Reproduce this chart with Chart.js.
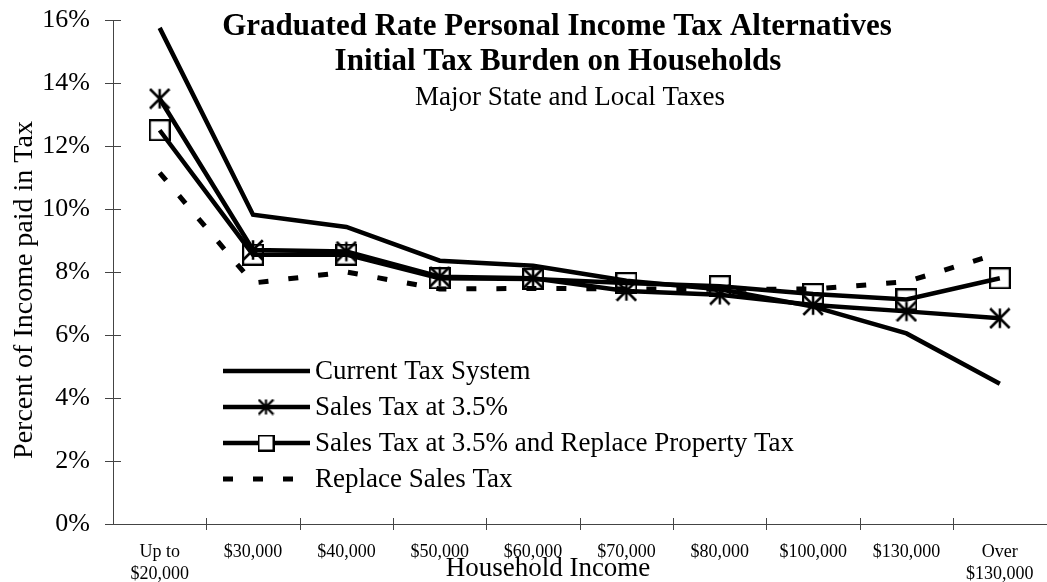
<!DOCTYPE html>
<html>
<head>
<meta charset="utf-8">
<script src="https://cdn.jsdelivr.net/npm/chart.js@4.4.0/dist/chart.umd.min.js"></script>
<style>
  html, body { margin: 0; padding: 0; background: #fff; overflow: hidden; width: 1047px; height: 582px; }
  canvas { display: block; }
</style>
</head>
<body>
<canvas id="chart" width="1062" height="582"></canvas>
<script>
// Household income brackets (x axis)
const incomeGroups = [
  ['Up to', '$20,000'], '$30,000', '$40,000', '$50,000', '$60,000',
  '$70,000', '$80,000', '$100,000', '$130,000', ['Over', '$130,000']
];

// Percent of income paid in tax, by alternative
const currentSystem = [15.75, 9.82, 9.43, 8.36, 8.2, 7.72, 7.45, 6.9, 6.05, 4.45];
const salesTax35 = [13.5, 8.7, 8.65, 7.85, 7.8, 7.4, 7.28, 6.95, 6.75, 6.53];
const salesTaxReplaceProperty = [12.5, 8.55, 8.55, 7.8, 7.78, 7.65, 7.55, 7.3, 7.13, 7.8];
const replaceSalesTax = [11.15, 7.65, 8.0, 7.46, 7.48, 7.46, 7.45, 7.46, 7.69, 8.6];

const yMin = 0, yMax = 16, yStep = 2;

const seriesNames = [
  'Current Tax System',
  'Sales Tax at 3.5%',
  'Sales Tax at 3.5% and Replace Property Tax',
  'Replace Sales Tax'
];

const SERIF = "'Liberation Serif', 'Times New Roman', serif";

// marker images
function makeAsterisk(size, lw) {
  const c = document.createElement('canvas');
  c.width = c.height = size;
  const g = c.getContext('2d');
  const m = size / 2, r = size / 2 - lw / 2;
  g.strokeStyle = '#000';
  g.lineWidth = lw;
  g.beginPath();
  g.moveTo(m, m - r); g.lineTo(m, m + r);
  g.moveTo(m - r, m - r); g.lineTo(m + r, m + r);
  g.moveTo(m + r, m - r); g.lineTo(m - r, m + r);
  g.stroke();
  return c;
}

function makeSquare(size, lw) {
  const c = document.createElement('canvas');
  c.width = c.height = size;
  const g = c.getContext('2d');
  g.strokeStyle = '#000';
  g.lineWidth = lw;
  g.strokeRect(lw / 2, lw / 2, size - lw, size - lw);
  return c;
}

const starMark = makeAsterisk(22, 2.5);
const boxMark = makeSquare(22, 2.2);
const starMarkSmall = makeAsterisk(17, 2.2);
const boxMarkSmall = makeSquare(17, 2);

// keep the plot box fixed: no extra room for overhanging tick labels
function noOverhang(scale) {
  scale.paddingLeft = 0;
  scale.paddingRight = 0;
  scale.paddingTop = 0;
  scale.paddingBottom = 0;
}

// crossing tick marks, titles and the in-plot legend
const decorations = {
  id: 'decorations',
  afterDraw(chart) {
    const ctx = chart.ctx;
    const x = chart.scales.x, y = chart.scales.y;
    const area = chart.chartArea;
    ctx.save();
    ctx.strokeStyle = '#444';
    ctx.lineWidth = 1;
    ctx.beginPath();
    y.ticks.forEach(t => {
      const py = Math.round(y.getPixelForValue(t.value)) + 0.5;
      ctx.moveTo(area.left - 8, py);
      ctx.lineTo(area.left + 8, py);
    });
    for (let i = 1; i < incomeGroups.length; i++) {
      const px = Math.round((x.getPixelForValue(i - 1) + x.getPixelForValue(i)) / 2) + 0.5;
      ctx.moveTo(px, area.bottom - 6);
      ctx.lineTo(px, area.bottom + 6);
    }
    ctx.stroke();

    ctx.fillStyle = '#000';
    ctx.textAlign = 'center';
    ctx.textBaseline = 'alphabetic';
    ctx.font = 'bold 31px ' + SERIF;
    ctx.fillText('Graduated Rate Personal Income Tax Alternatives', 557, 35);
    ctx.fillText('Initial Tax Burden on Households', 558, 70);
    ctx.font = '27px ' + SERIF;
    ctx.fillText('Major State and Local Taxes', 570, 105);

    ctx.font = '27px ' + SERIF;
    ctx.textBaseline = 'middle';
    ctx.fillText('Household Income', 548, 569);

    ctx.save();
    ctx.translate(32, 290);
    ctx.rotate(-Math.PI / 2);
    ctx.textBaseline = 'alphabetic';
    ctx.font = '28px ' + SERIF;
    ctx.fillText('Percent of Income paid in Tax', 0, 0);
    ctx.restore();

    // legend
    const rows = [371, 407, 443, 479];
    const marks = [null, starMarkSmall, boxMarkSmall, null];
    ctx.textAlign = 'left';
    ctx.textBaseline = 'middle';
    ctx.font = '27px ' + SERIF;
    chart.data.datasets.forEach((ds, i) => {
      const ry = rows[i];
      ctx.strokeStyle = '#000';
      ctx.lineWidth = ds.borderWidth;
      ctx.setLineDash(ds.borderDash || []);
      ctx.beginPath();
      ctx.moveTo(223, ry);
      ctx.lineTo(ds.borderDash ? 296 : 310, ry);
      ctx.stroke();
      ctx.setLineDash([]);
      if (marks[i]) {
        ctx.fillStyle = '#fff';
        if (i === 2) ctx.fillRect(258, ry - 8, 16, 16);
        ctx.drawImage(marks[i], 266 - marks[i].width / 2, ry - marks[i].height / 2);
      }
      ctx.fillStyle = '#000';
      ctx.fillText(ds.label, 315, ry + 1);
    });
    ctx.restore();
  }
};

new Chart(document.getElementById('chart'), {
  type: 'line',
  data: {
    labels: incomeGroups,
    datasets: [
      {
        label: seriesNames[0], data: currentSystem,
        borderColor: '#000', borderWidth: 4.5, pointRadius: 0, tension: 0
      },
      {
        label: seriesNames[1], data: salesTax35,
        borderColor: '#000', borderWidth: 4.5, tension: 0,
        pointStyle: starMark, pointRadius: 11
      },
      {
        label: seriesNames[2], data: salesTaxReplaceProperty,
        borderColor: '#000', borderWidth: 4.5, tension: 0,
        pointStyle: boxMark, pointRadius: 11
      },
      {
        label: seriesNames[3], data: replaceSalesTax,
        borderColor: '#000', borderWidth: 5, borderDash: [10, 20],
        borderCapStyle: 'butt', pointRadius: 0, tension: 0
      }
    ]
  },
  options: {
    responsive: false,
    animation: false,
    events: [],
    layout: { padding: { top: 20, right: 1, left: 0, bottom: 0 } },
    plugins: {
      legend: { display: false },
      title: { display: false },
      tooltip: { enabled: false }
    },
    scales: {
      x: {
        offset: true,
        grid: { display: false, drawTicks: false },
        border: { display: true, color: '#444', width: 1 },
        ticks: {
          color: '#000',
          font: { family: SERIF, size: 18, lineHeight: 1.25 },
          padding: 17,
          maxRotation: 0,
          autoSkip: false
        },
        afterFit(scale) { scale.height = 58; noOverhang(scale); }
      },
      y: {
        min: yMin, max: yMax,
        grid: { display: false, drawTicks: false },
        border: { display: true, color: '#444', width: 1 },
        ticks: {
          stepSize: yStep,
          color: '#000',
          font: { family: SERIF, size: 26 },
          padding: 23,
          callback: v => v + '%'
        },
        afterFit(scale) { scale.width = 113; noOverhang(scale); }
      }
    }
  },
  plugins: [decorations]
});
</script>
</body>
</html>
